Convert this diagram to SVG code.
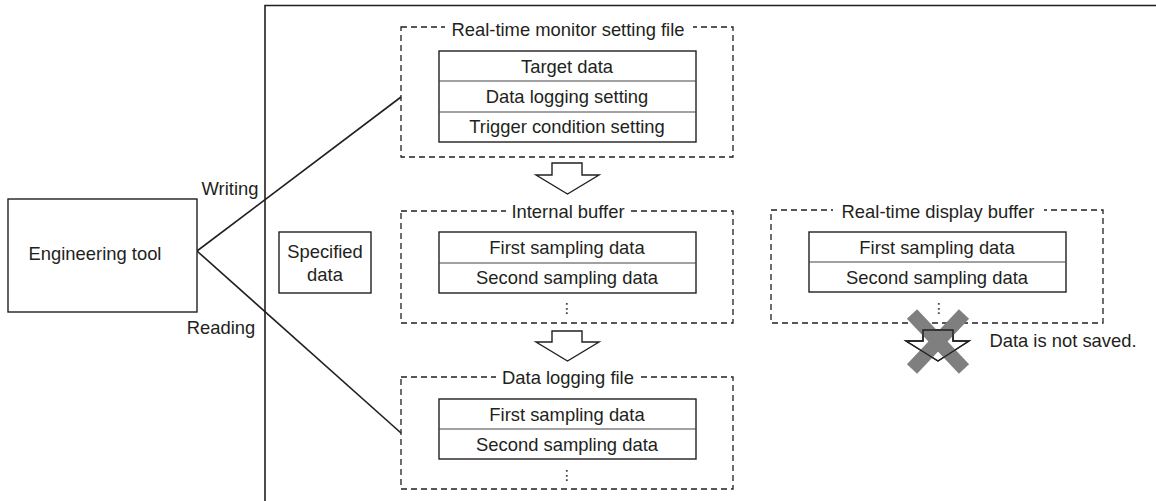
<svg xmlns="http://www.w3.org/2000/svg" width="1156" height="501" viewBox="0 0 1156 501">
<defs>
<style>
text{font-family:"Liberation Sans",Arial,sans-serif;font-size:18.4px;fill:#231f20;text-anchor:middle}
.dash{fill:none;stroke:#231f20;stroke-width:1.3;stroke-dasharray:6 4}
.box{fill:#fff;stroke:#231f20;stroke-width:1.4}
.div{stroke:#444;stroke-width:1.1}
.gap{fill:#fff}
.arrow{fill:#fff;stroke:#231f20;stroke-width:1.4;stroke-linejoin:miter}
.dots{font-family:"DejaVu Sans",sans-serif;font-size:14px}
.line{stroke:#231f20;stroke-width:1.6;fill:none}
</style>
</defs>
<rect width="1156" height="501" fill="#fff"/>
<g id="frame">
<path class="line" d="M265,501 V5.5 H1156"/>
</g>
<g id="connectors">
<line class="line" x1="197" y1="251" x2="401" y2="97"/>
<line class="line" x1="197" y1="251" x2="401" y2="433"/>
<text x="230" y="195">Writing</text>
<text x="221" y="334">Reading</text>
</g>
<g id="engineering-tool">
<rect class="box" x="8" y="199" width="189" height="113"/>
<text x="95" y="260">Engineering tool</text>
</g>
<g id="specified-data">
<rect class="box" x="279" y="232" width="92" height="61"/>
<text x="325" y="258">Specified</text>
<text x="325" y="281">data</text>
</g>
<g id="monitor-setting-file">
<rect class="dash" x="401" y="27" width="332" height="130"/>
<rect class="gap" x="445" y="20" width="248" height="14"/>
<text x="568" y="36">Real-time monitor setting file</text>
<rect class="box" x="439" y="51" width="257" height="91"/>
<line class="div" x1="439" y1="81" x2="696" y2="81"/>
<line class="div" x1="439" y1="112" x2="696" y2="112"/>
<text x="567" y="73">Target data</text>
<text x="567" y="103">Data logging setting</text>
<text x="567" y="133">Trigger condition setting</text>
</g>
<g id="arrow1">
<path class="arrow" d="M552,163 H582 V175 H599 L567.5,194 L536,175 H552 Z"/>
</g>
<g id="internal-buffer">
<rect class="dash" x="401" y="211" width="332" height="112"/>
<rect class="gap" x="506" y="204" width="124" height="14"/>
<text x="568" y="218">Internal buffer</text>
<rect class="box" x="439" y="232" width="257" height="61"/>
<line class="div" x1="439" y1="263" x2="696" y2="263"/>
<text x="567" y="254">First sampling data</text>
<text x="567" y="284">Second sampling data</text>
<text class="dots" x="567" y="313">⋮</text>
</g>
<g id="arrow2">
<path class="arrow" d="M552,331 H582 V342 H599 L567.5,361 L536,342 H552 Z"/>
</g>
<g id="data-logging-file">
<rect class="dash" x="401" y="377" width="332" height="112"/>
<rect class="gap" x="496" y="370" width="144" height="14"/>
<text x="568" y="384">Data logging file</text>
<rect class="box" x="439" y="399" width="257" height="60"/>
<line class="div" x1="439" y1="429" x2="696" y2="429"/>
<text x="567" y="421">First sampling data</text>
<text x="567" y="451">Second sampling data</text>
<text class="dots" x="567" y="480">⋮</text>
</g>
<g id="display-buffer">
<rect class="dash" x="771" y="210" width="332" height="113"/>
<rect class="gap" x="833" y="203" width="211" height="14"/>
<text x="938" y="218">Real-time display buffer</text>
<rect class="box" x="809" y="232" width="257" height="60"/>
<line class="div" x1="809" y1="262" x2="1066" y2="262"/>
<text x="937" y="254">First sampling data</text>
<text x="937" y="284">Second sampling data</text>
<text class="dots" x="939" y="313">⋮</text>
</g>
<g id="not-saved">
<path class="arrow" d="M923,330 H953 V341 H969 L938,361 L906,341 H923 Z"/>
<g stroke="#7f7f7f" stroke-width="14" stroke-linecap="butt">
<line x1="912" y1="314" x2="964" y2="369"/>
<line x1="964" y1="314" x2="912" y2="369"/>
</g>
<path d="M923,330 H953 V341 H969 L938,361 L906,341 H923 Z" fill="none" stroke="#231f20" stroke-width="1.4"/>
<text x="1063" y="347">Data is not saved.</text>
</g>
</svg>
